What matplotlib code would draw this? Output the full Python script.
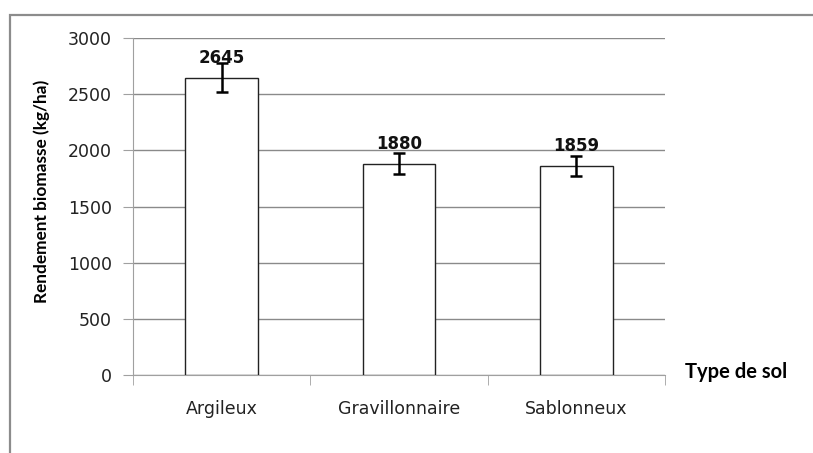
import numpy as np
import matplotlib
matplotlib.use("Agg")
import matplotlib.pyplot as plt
from matplotlib.patches import Rectangle

categories = ["Argileux", "Gravillonnaire", "Sablonneux"]
rendement = [2645, 1880, 1859]
erreur = [130, 94, 90]
yticks = [0, 500, 1000, 1500, 2000, 2500, 3000]

plt.rcParams['font.family'] = ['DejaVu Sans']

fig = plt.figure(figsize=(8.13, 4.53), dpi=100)
W, H = 813, 453

# outer chart frame (Excel style, runs off the picture at right/bottom)
fig.patches.append(Rectangle((10 / W, -0.1), 1.2, (H - 15) / H + 0.1,
                             transform=fig.transFigure, fill=False,
                             edgecolor="#8c8c8c", linewidth=1.6))

ax = fig.add_axes([133 / W, (H - 375) / H, (665 - 133) / W, (375 - 38) / H])

x = np.arange(len(categories))
ax.bar(x, rendement, width=0.41, color="white", edgecolor="#222222",
       linewidth=1.0, zorder=3)
ax.errorbar(x, rendement, yerr=erreur, fmt="none", ecolor="black",
            elinewidth=1.8, capsize=4, capthick=1.8, zorder=4)

for xi, v in zip(x, rendement):
    ax.annotate(str(v), (xi, v), xytext=(0, 8), textcoords="offset points",
                ha="center", va="bottom", fontsize=12, fontweight="bold",
                color="#111111")

ax.set_xlim(-0.5, 2.5)
ax.set_ylim(0, 3000)
ax.set_yticks(yticks)
ax.set_xticks(x)
ax.set_xticklabels(categories, fontsize=12.5, color="#222222")
ax.tick_params(axis="x", length=0, pad=18)
ax.tick_params(axis="y", length=7, color="#a0a0a0", labelsize=12.5, pad=8,
               labelcolor="#222222")

# category boundary ticks
ax.set_xticks([-0.5, 0.5, 1.5, 2.5], minor=True)
ax.tick_params(axis="x", which="minor", length=7, color="#a0a0a0")

ax.yaxis.grid(True, color="#8a8a8a", linewidth=1.0, zorder=0)
ax.set_axisbelow(True)
for side in ["top", "right"]:
    ax.spines[side].set_visible(False)
ax.spines["left"].set_color("#a0a0a0")
ax.spines["bottom"].set_color("#a0a0a0")

fig.text(42 / W, 1 - 191 / H, "Rendement biomasse (kg/ha)", rotation=90,
         ha="center", va="center", fontsize=12.4, fontweight="bold",
         family=["Lato", "DejaVu Sans"])
fig.text(685 / W, 1 - 372 / H, "Type de sol", ha="left", va="center",
         fontsize=14.5, fontweight="bold", family=["Lato", "DejaVu Sans"])

fig.savefig("out.png", dpi=100)
